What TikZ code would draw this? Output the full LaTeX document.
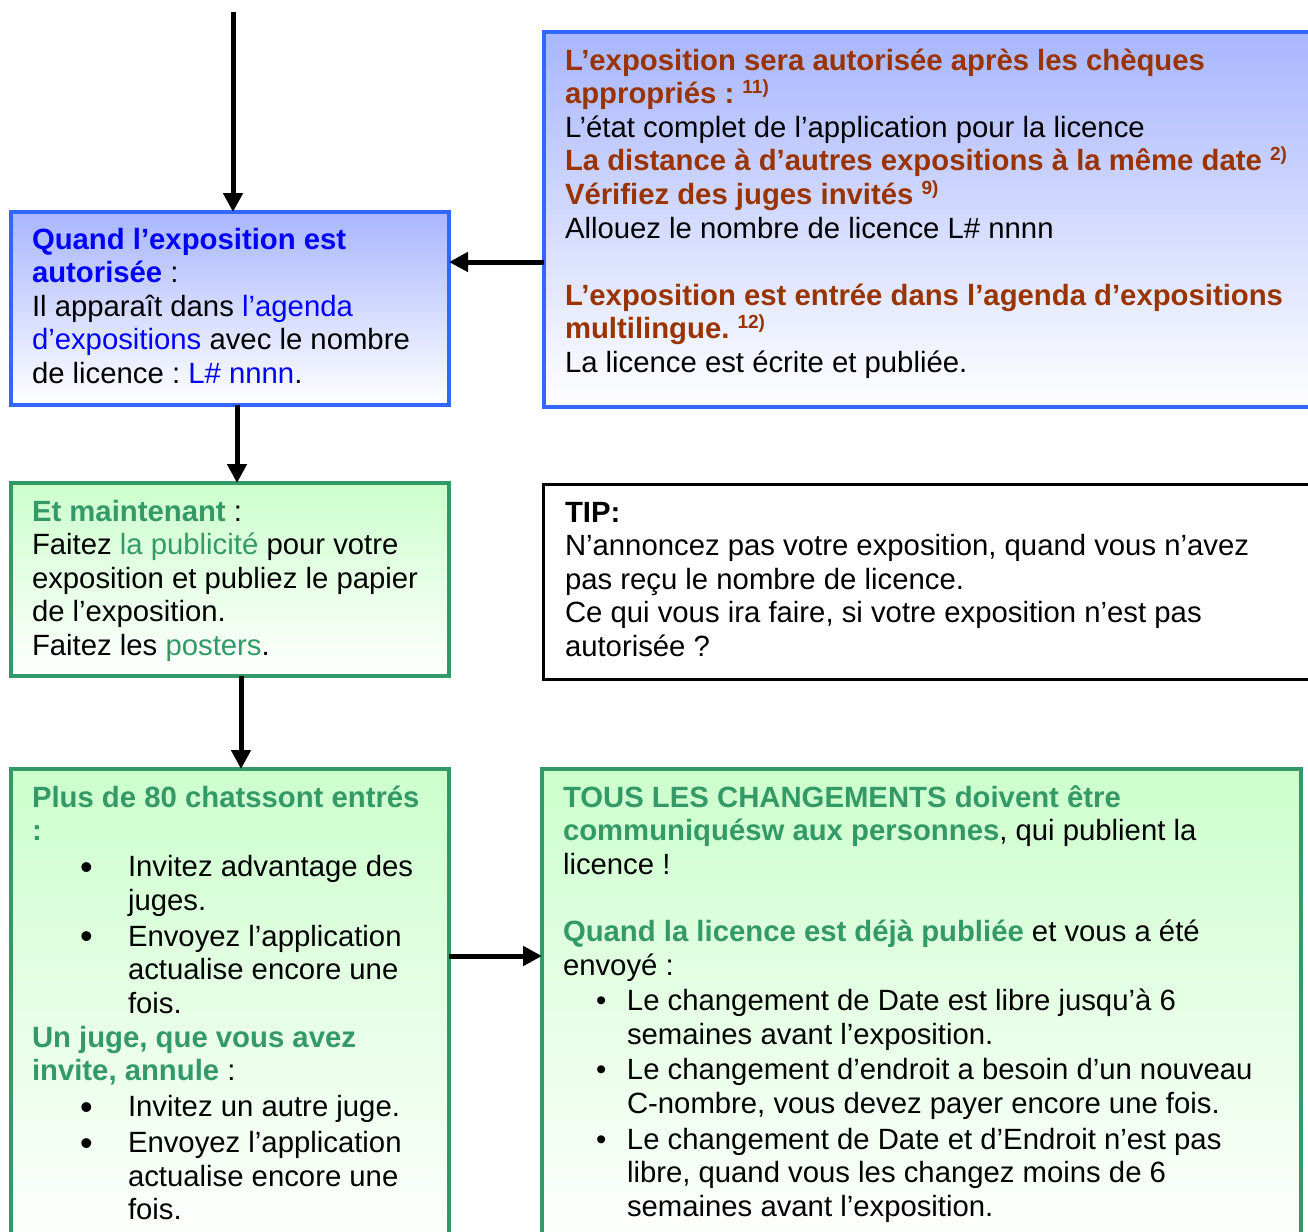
\documentclass[tikz,border=0pt]{standalone}
\usepackage{fontspec}
\setmainfont{Liberation Sans}
\usetikzlibrary{arrows.meta}
\definecolor{bordblue}{HTML}{3366FF}
\definecolor{fillblue}{HTML}{A8B6FF}
\definecolor{qblue}{HTML}{0000FF}
\definecolor{qbrown}{HTML}{993300}
\definecolor{qgreen}{HTML}{339966}
\definecolor{fillgreen}{HTML}{CCFFCC}
\frenchspacing
\newcommand\fst{\rule{0pt}{24pt}}
\newcommand\sups[1]{\raisebox{10pt}{\fontsize{19}{19}\selectfont\bfseries #1}}
\newcommand\bl[1]{{\color{qblue}#1}}
\newcommand\bbl[1]{{\bfseries\color{qblue}#1}}
\newcommand\br[1]{{\bfseries\color{qbrown}#1}}
\newcommand\gr[1]{{\color{qgreen}#1}}
\newcommand\bgr[1]{{\bfseries\color{qgreen}#1}}
\newcommand\bitem{\makebox[96pt][l]{\hspace*{48pt}\raisebox{-2.5pt}{\fontsize{36}{36}\selectfont\textbullet}}}
\newcommand\bind{\hspace*{96pt}}
\newcommand\fitem{\makebox[64pt][l]{\hspace*{33pt}\textbullet}}
\newcommand\find{\hspace*{64pt}}
\begin{document}
\begin{tikzpicture}[x=1pt,y={(0pt,-1pt)},
  bluebox/.style={draw=bordblue, line width=3.5pt, top color=fillblue, bottom color=white, anchor=north west, inner sep=0, outer sep=0},
  greenbox/.style={draw=qgreen, line width=3.5pt, top color=fillgreen, bottom color=white, anchor=north west, inner sep=0, outer sep=0},
  tipbox/.style={draw=black, line width=3.5pt, fill=white, anchor=north west, inner sep=0, outer sep=0},
  txt/.style={anchor=north west, inner sep=0, outer sep=0, align=left, font=\fontsize{29.3}{33.6}\selectfont},
  arr/.style={line width=5pt, -{Triangle[length=19pt,width=19pt]}}]
\useasboundingbox (0,0) rectangle (1308,1231);
\clip (0,0) rectangle (1308,1231);
\fill[white] (0,0) rectangle (1308,1231);

% boxes
\node[bluebox, minimum width=438pt, minimum height=193pt] (qa) at (11,212) {};
\node[bluebox, minimum width=800pt, minimum height=375pt] (qb) at (544,32) {};
\node[greenbox, minimum width=438pt, minimum height=193pt] (qc) at (11,483) {};
\node[tipbox, minimum width=800pt, minimum height=195pt] (qd) at (543.5,484.5) {};
\node[greenbox, minimum width=438pt, minimum height=480pt] (qe) at (11,769) {};
\node[greenbox, minimum width=759pt, minimum height=480pt] (qf) at (542,769) {};

% texts
\node[txt] (ta) at (32,225) {\fst\bbl{Quand l’exposition est}\\
\bbl{autorisée} :\\
Il apparaît dans \bl{l’agenda}\\
\bl{d’expositions} avec le nombre\\
de licence : \bl{L\# nnnn}.};

\node[txt] (tb) at (565,46) {\fst\br{L’exposition sera autorisée après les chèques}\\
\br{appropriés : \sups{11)}}\\
L’état complet de l’application pour la licence\\
\br{La distance à d’autres expositions à la même date \sups{2)}}\\
\br{Vérifiez des juges invités \sups{9)}}\\
Allouez le nombre de licence L\# nnnn\\[33.6pt]
\br{L’exposition est entrée dans l’agenda d’expositions}\\
\br{multilingue. \sups{12)}}\\
La licence est écrite et publiée.};

\node[txt] (tc) at (32,497) {\fst\bgr{Et maintenant} :\\
Faitez \gr{la publicité} pour votre\\
exposition et publiez le papier\\
de l’exposition.\\
Faitez les \gr{posters}.};

\node[txt] (td) at (565,498) {\fst\textbf{TIP:}\\
N’annoncez pas votre exposition, quand vous n’avez\\
pas reçu le nombre de licence.\\
Ce qui vous ira faire, si votre exposition n’est pas\\
autorisée ?};

\node[txt] (te) at (32,783) {\fst\bgr{Plus de 80 chatssont entrés}\\
\bgr{:}\\[2.4pt]
\bitem Invitez advantage des\\
\bind juges.\\[2.4pt]
\bitem Envoyez l’application\\
\bind actualise encore une\\
\bind fois.\\
\bgr{Un juge, que vous avez}\\
\bgr{invite, annule} :\\[2.4pt]
\bitem Invitez un autre juge.\\[2.4pt]
\bitem Envoyez l’application\\
\bind actualise encore une\\
\bind fois.};

\node[txt] (tf) at (563,783) {\fst\bgr{TOUS LES CHANGEMENTS doivent être}\\
\bgr{communiquésw aux personnes}, qui publient la\\
licence !\\[33.6pt]
\bgr{Quand la licence est déjà publiée} et vous a été\\
envoyé :\\[2pt]
\fitem Le changement de Date est libre jusqu’à 6\\
\find semaines avant l’exposition.\\[2pt]
\fitem Le changement d’endroit a besoin d’un nouveau\\
\find C-nombre, vous devez payer encore une fois.\\[2pt]
\fitem Le changement de Date et d’Endroit n’est pas\\
\find libre, quand vous les changez moins de 6\\
\find semaines avant l’exposition.};

% connectors
\coordinate (top) at (233,12);
\coordinate (yab) at (0,262);
\coordinate (xac) at (237,0);
\coordinate (xce) at (241,0);
\coordinate (yef) at (0,956);
\draw[arr] (top) -- (top |- qa.north);
\draw[arr] (qb.west |- yab) -- (qa.east |- yab);
\draw[arr] (qa.south -| xac) -- (qc.north -| xac);
\draw[arr] (qc.south -| xce) -- (qe.north -| xce);
\draw[arr] (qe.east |- yef) -- (qf.west |- yef);
\end{tikzpicture}
\end{document}
